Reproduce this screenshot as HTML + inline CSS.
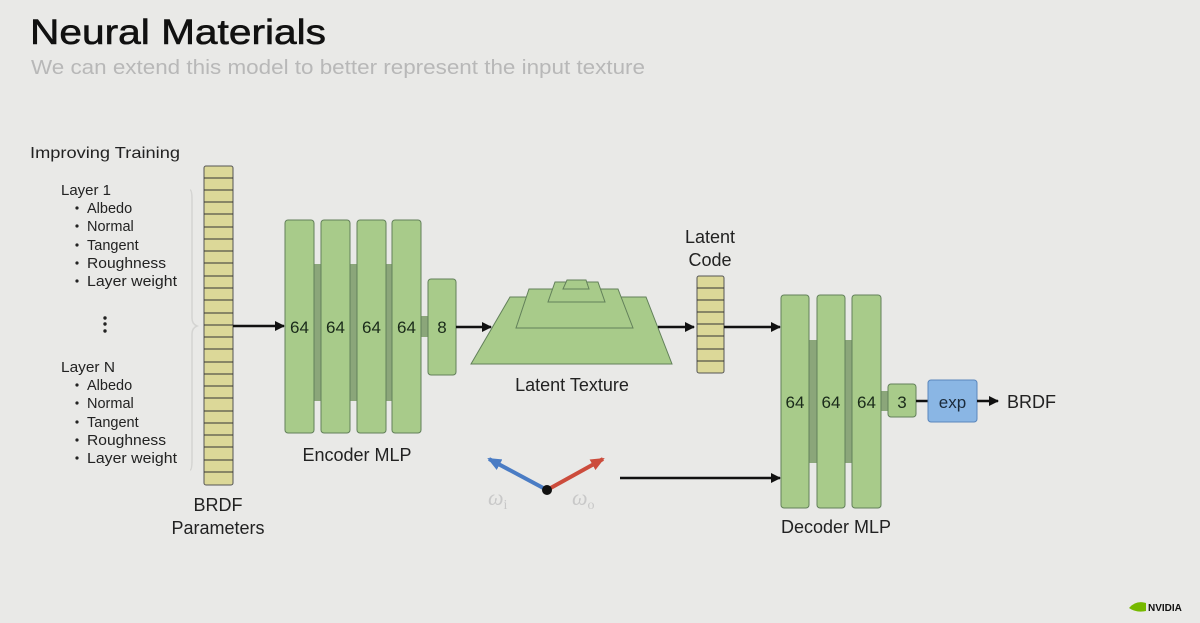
<!DOCTYPE html>
<html><head><meta charset="utf-8"><style>
html,body{margin:0;padding:0;background:#e9e9e7;}
svg{display:block;font-family:"Liberation Sans","DejaVu Sans",sans-serif;}
</style></head><body>
<svg width="1200" height="623" viewBox="0 0 1200 623" xmlns="http://www.w3.org/2000/svg">
<defs>
<marker id="ah" markerWidth="10" markerHeight="10" refX="9" refY="5" orient="auto" markerUnits="userSpaceOnUse"><path d="M0,0 L10,5 L0,10 Z" fill="#111"/></marker>
<marker id="ab" markerWidth="14" markerHeight="12" refX="12" refY="6" orient="auto" markerUnits="userSpaceOnUse"><path d="M0,0 L14,6 L0,12 Z" fill="#4a7cc4"/></marker>
<marker id="ar" markerWidth="14" markerHeight="12" refX="12" refY="6" orient="auto" markerUnits="userSpaceOnUse"><path d="M0,0 L14,6 L0,12 Z" fill="#cc4c3c"/></marker>
</defs>
<rect width="1200" height="623" fill="#e9e9e7"/>
<text x="30" y="44" font-size="35" fill="#111" stroke="#111" stroke-width="0.6" textLength="296" lengthAdjust="spacingAndGlyphs">Neural Materials</text>
<text x="31" y="74" font-size="20" fill="#b8b8b8" textLength="614" lengthAdjust="spacingAndGlyphs">We can extend this model to better represent the input texture</text>

<text x="30" y="158" font-size="16" fill="#222" textLength="150" lengthAdjust="spacingAndGlyphs">Improving Training</text>
<g font-size="14.5" fill="#222">
<text x="61" y="195" textLength="50" lengthAdjust="spacingAndGlyphs">Layer 1</text>
<circle cx="77" cy="208" r="1.6"/><text x="87" y="213">Albedo</text>
<circle cx="77" cy="226" r="1.6"/><text x="87" y="231">Normal</text>
<circle cx="77" cy="245" r="1.6"/><text x="87" y="250">Tangent</text>
<circle cx="77" cy="263" r="1.6"/><text x="87" y="268" textLength="79" lengthAdjust="spacingAndGlyphs">Roughness</text>
<circle cx="77" cy="281" r="1.6"/><text x="87" y="286" textLength="90" lengthAdjust="spacingAndGlyphs">Layer weight</text>
<circle cx="105" cy="318" r="1.7"/><circle cx="105" cy="324" r="1.7"/><circle cx="105" cy="331" r="1.7"/>
<text x="61" y="372" textLength="54" lengthAdjust="spacingAndGlyphs">Layer N</text>
<circle cx="77" cy="385" r="1.6"/><text x="87" y="390">Albedo</text>
<circle cx="77" cy="403" r="1.6"/><text x="87" y="408">Normal</text>
<circle cx="77" cy="422" r="1.6"/><text x="87" y="427">Tangent</text>
<circle cx="77" cy="440" r="1.6"/><text x="87" y="445" textLength="79" lengthAdjust="spacingAndGlyphs">Roughness</text>
<circle cx="77" cy="458" r="1.6"/><text x="87" y="463" textLength="90" lengthAdjust="spacingAndGlyphs">Layer weight</text>
</g>
<path d="M190,190 Q192,190 192,200 L192,318 Q192,324 197,326 Q192,328 192,334 L192,460 Q192,470 190,470" fill="none" stroke="#d4d4d2" stroke-width="1.5"/>

<rect x="204" y="166" width="29" height="319" rx="2" fill="#dcd898" stroke="#555" stroke-width="1"/>
<g stroke="#333" stroke-width="1">
<line x1="204" y1="178" x2="233" y2="178"/><line x1="204" y1="190" x2="233" y2="190"/><line x1="204" y1="202" x2="233" y2="202"/><line x1="204" y1="214" x2="233" y2="214"/><line x1="204" y1="227" x2="233" y2="227"/><line x1="204" y1="239" x2="233" y2="239"/><line x1="204" y1="251" x2="233" y2="251"/><line x1="204" y1="263" x2="233" y2="263"/><line x1="204" y1="276" x2="233" y2="276"/><line x1="204" y1="288" x2="233" y2="288"/><line x1="204" y1="300" x2="233" y2="300"/><line x1="204" y1="313" x2="233" y2="313"/><line x1="204" y1="325" x2="233" y2="325"/><line x1="204" y1="337" x2="233" y2="337"/><line x1="204" y1="349" x2="233" y2="349"/><line x1="204" y1="362" x2="233" y2="362"/><line x1="204" y1="374" x2="233" y2="374"/><line x1="204" y1="386" x2="233" y2="386"/><line x1="204" y1="398" x2="233" y2="398"/><line x1="204" y1="411" x2="233" y2="411"/><line x1="204" y1="423" x2="233" y2="423"/><line x1="204" y1="435" x2="233" y2="435"/><line x1="204" y1="447" x2="233" y2="447"/><line x1="204" y1="460" x2="233" y2="460"/><line x1="204" y1="472" x2="233" y2="472"/>
</g>
<text x="218" y="511" font-size="18" fill="#222" text-anchor="middle">BRDF</text>
<text x="218" y="534" font-size="18" fill="#222" text-anchor="middle">Parameters</text>

<line x1="233" y1="326" x2="284" y2="326" stroke="#111" stroke-width="2.5" marker-end="url(#ah)"/>

<g fill="#8ba67a">
<rect x="313" y="264" width="9" height="137"/><rect x="349" y="264" width="9" height="137"/><rect x="385" y="264" width="9" height="137"/><rect x="420" y="316" width="9" height="21"/>
</g>
<g fill="#a8cb8a" stroke="#62805a" stroke-width="1">
<rect x="285" y="220" width="29" height="213" rx="3"/><rect x="321" y="220" width="29" height="213" rx="3"/><rect x="357" y="220" width="29" height="213" rx="3"/><rect x="392" y="220" width="29" height="213" rx="3"/><rect x="428" y="279" width="28" height="96" rx="3"/>
</g>
<g font-size="17" fill="#1a2a1a" text-anchor="middle">
<text x="299.5" y="333">64</text><text x="335.5" y="333">64</text><text x="371.5" y="333">64</text><text x="406.5" y="333">64</text><text x="442" y="333">8</text>
</g>
<text x="357" y="461" font-size="18" fill="#222" text-anchor="middle">Encoder MLP</text>

<line x1="456" y1="327" x2="491" y2="327" stroke="#111" stroke-width="2.5" marker-end="url(#ah)"/>

<g fill="#a8cb8a" stroke="#62805a" stroke-width="1">
<polygon points="471,364 672,364 646,297 510,297"/>
<polygon points="516,328 633,328 618,289 529,289"/>
<polygon points="548,302 605,302 598,282 555,282" />
<polygon points="563,289 589,289 586,280 567,280"/>
</g>
<text x="572" y="391" font-size="18" fill="#222" text-anchor="middle">Latent Texture</text>

<line x1="658" y1="327" x2="694" y2="327" stroke="#111" stroke-width="2.5" marker-end="url(#ah)"/>

<rect x="697" y="276" width="27" height="97" rx="2" fill="#dcd898" stroke="#555"/>
<g stroke="#333"><line x1="697" y1="288" x2="724" y2="288"/><line x1="697" y1="300" x2="724" y2="300"/><line x1="697" y1="312" x2="724" y2="312"/><line x1="697" y1="324" x2="724" y2="324"/><line x1="697" y1="336" x2="724" y2="336"/><line x1="697" y1="349" x2="724" y2="349"/><line x1="697" y1="361" x2="724" y2="361"/></g>
<text x="710" y="243" font-size="18" fill="#222" text-anchor="middle">Latent</text>
<text x="710" y="266" font-size="18" fill="#222" text-anchor="middle">Code</text>

<line x1="724" y1="327" x2="780" y2="327" stroke="#111" stroke-width="2.5" marker-end="url(#ah)"/>

<g fill="#8ba67a">
<rect x="808" y="340" width="10" height="123"/><rect x="844" y="340" width="9" height="123"/><rect x="880" y="391" width="9" height="20"/>
</g>
<g fill="#a8cb8a" stroke="#62805a" stroke-width="1">
<rect x="781" y="295" width="28" height="213" rx="3"/><rect x="817" y="295" width="28" height="213" rx="3"/><rect x="852" y="295" width="29" height="213" rx="3"/><rect x="888" y="384" width="28" height="33" rx="3"/>
</g>
<g font-size="17" fill="#1a2a1a" text-anchor="middle">
<text x="795" y="408">64</text><text x="831" y="408">64</text><text x="866.5" y="408">64</text><text x="902" y="408">3</text>
</g>
<line x1="916" y1="401" x2="928" y2="401" stroke="#111" stroke-width="2.5"/>
<rect x="928" y="380" width="49" height="42" rx="3" fill="#8ab6e4" stroke="#5a86bc"/>
<text x="952.5" y="408" font-size="17" fill="#1a2a3a" text-anchor="middle">exp</text>
<line x1="977" y1="401" x2="998" y2="401" stroke="#111" stroke-width="2.5" marker-end="url(#ah)"/>
<text x="1007" y="408" font-size="18" fill="#222">BRDF</text>
<text x="836" y="533" font-size="18" fill="#222" text-anchor="middle">Decoder MLP</text>

<line x1="547" y1="490" x2="489" y2="459" stroke="#4a7cc4" stroke-width="4" marker-end="url(#ab)"/>
<line x1="547" y1="490" x2="603" y2="459" stroke="#cc4c3c" stroke-width="4" marker-end="url(#ar)"/>
<circle cx="547" cy="490" r="5" fill="#111"/>
<text x="488" y="505" font-size="22" font-style="italic" fill="#c8c8c8" font-family="Liberation Serif,serif">ω<tspan font-size="14" dy="4" font-style="normal">i</tspan></text>
<text x="572" y="505" font-size="22" font-style="italic" fill="#c8c8c8" font-family="Liberation Serif,serif">ω<tspan font-size="14" dy="4" font-style="normal">o</tspan></text>
<line x1="620" y1="478" x2="780" y2="478" stroke="#111" stroke-width="2.5" marker-end="url(#ah)"/>

<path d="M1129,608 Q1136,600 1146,603 L1146,611 Q1136,613 1129,608 Z" fill="#76b900"/>
<text x="1148" y="611" font-size="10" font-weight="bold" fill="#111">NVIDIA</text>
</svg>
</body></html>
